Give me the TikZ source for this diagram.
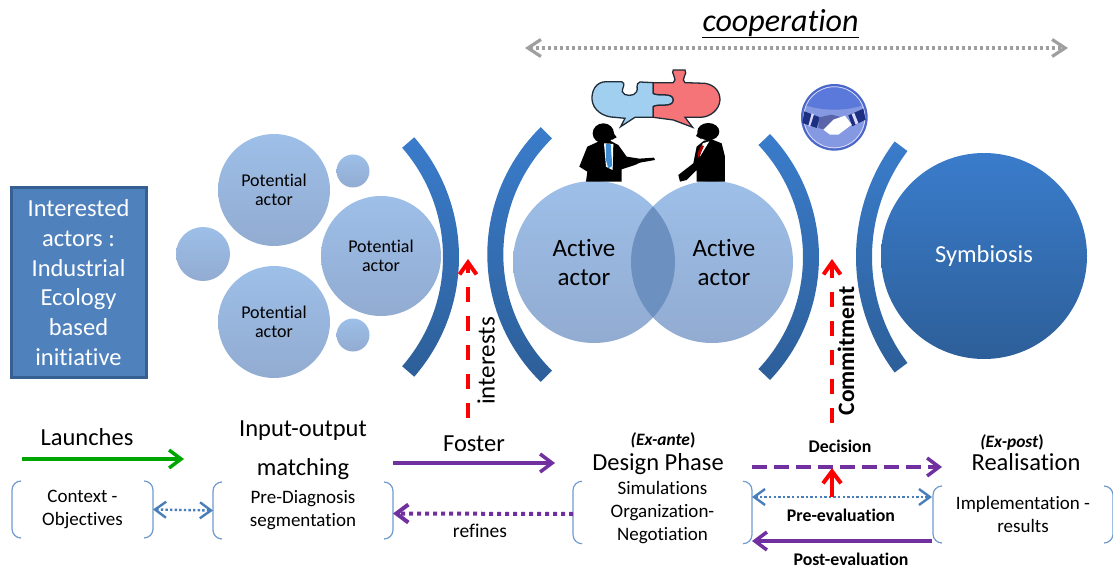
\documentclass[tikz,border=0pt]{standalone}
\usepackage{fontspec}
\setmainfont[Ligatures=NoCommon]{Carlito}
\usetikzlibrary{arrows.meta}
\definecolor{bluebar}{HTML}{3A7CCB}
\definecolor{bluebardk}{HTML}{2D5F99}
\definecolor{lightbub}{HTML}{9DBFE8}
\definecolor{lightbubdk}{HTML}{92ABD1}
\definecolor{overlapblue}{HTML}{6C90BF}
\definecolor{boxfill}{HTML}{4F81BD}
\definecolor{boxline}{HTML}{376092}
\definecolor{violetarr}{HTML}{7030A0}
\definecolor{bracketcol}{HTML}{6F9BD0}
\definecolor{dotblue}{HTML}{4A7EBB}
\definecolor{puzzleblue}{HTML}{A0CFF0}
\definecolor{puzzlered}{HTML}{F47478}
\definecolor{puzzleline}{HTML}{1F2D38}
\definecolor{badgering}{HTML}{4A68C8}
\definecolor{badgelight}{HTML}{8599E2}
\definecolor{badgetop}{HTML}{5B79DA}
\definecolor{badgearm}{HTML}{1C2F80}
\definecolor{badgehand}{HTML}{5A64A8}
\newcommand{\crescent}[4]{% centre, radius, facing, half angle
  \shade[top color=bluebar,bottom color=bluebardk,shift={(#1)}]
    (#3+#4:#2) arc[start angle=#3+#4,end angle=#3-#4,radius=#2]
    -- (#3-#4:#2-16) arc[start angle=#3-#4,end angle=#3+#4,radius=#2-16] -- cycle;
}
\tikzset{
  bubble/.style={circle,inner sep=0pt,top color=lightbub,bottom color=lightbubdk,
    align=center,font=\fontsize{18}{19.5}\selectfont},
  title/.style={font=\fontsize{24.5}{28}\selectfont,inner sep=0pt},
  small/.style={font=\fontsize{19}{23}\selectfont,align=center,inner sep=0pt},
  bold/.style={font=\fontsize{17.8}{20}\selectfont\bfseries,inner sep=0pt},
  bracketbox/.style={small,minimum width=#1,minimum height=57pt,outer sep=0pt},
  barb/.style={-{Straight Barb[length=12pt,width=18pt]}},
  bibarb/.style={{Straight Barb[length=11pt,width=16pt]}-{Straight Barb[length=11pt,width=16pt]}},
  violetline/.style={draw=violetarr,line width=3.5pt,barb},
  reddash/.style={draw=red,line width=4pt,-{Straight Barb[length=12pt,width=17pt]},dash pattern=on 15pt off 14pt},
  dotline/.style={draw=dotblue,line width=2.4pt,bibarb,dash pattern=on 2.4pt off 2.2pt},
}
\begin{document}
\begin{tikzpicture}[x=1pt,y=-1pt]
\useasboundingbox (0,0) rectangle (1113,569);
% top label and arrow
\node [font=\fontsize{32}{36}\selectfont,inner sep=0pt] (coop) at (780.5,23) {\textit{cooperation}};
\draw [line width=1.8pt] ([yshift=-6pt]coop.base west) -- ([yshift=-6pt]coop.base east);
\coordinate (coopL) at (525,48);
\coordinate (coopR) at (1068,48);
\draw [draw=gray!75,line width=3.2pt,dash pattern=on 3pt off 3pt,{Straight Barb[length=13pt,width=17pt]}-{Straight Barb[length=13pt,width=17pt]}] (coopL) -- (coopR);
% initiative box
\node [rectangle,draw=boxline,line width=3pt,fill=boxfill,minimum width=135pt,minimum height=189pt,
  text=white,align=center,font=\fontsize{24.5}{29.7}\selectfont,inner sep=0pt] (box) at (78.5,282.5)
  {Interested\\actors :\\Industrial\\Ecology\\based\\initiative};
% potential actors
\node [bubble,minimum size=112pt] (pa1) at (274,190) {Potential\\actor};
\node [bubble,minimum size=120pt] (pa2) at (381,256) {Potential\\actor};
\node [bubble,minimum size=112pt] (pa3) at (274,322) {Potential\\actor};
\node [bubble,minimum size=54pt] (dot1) at (203,254) {};
\node [bubble,minimum size=33pt] (dot2) at (353,171) {};
\node [bubble,minimum size=33pt] (dot3) at (353,335) {};
% brackets
\crescent{276.5,257}{182.5}{0}{41}
\crescent{666,254.5}{178.7}{180}{45.5}
\crescent{640,257}{179}{0}{43.4}
\crescent{1048,257}{192}{180}{37}
% active actors and overlap
\node [bubble,minimum size=162pt] (act1) at (594,262) {};
\node [bubble,minimum size=162pt] (act2) at (712,262) {};
\begin{scope}
  \clip (594,262) circle [radius=81];
  \fill [fill=overlapblue] (712,262) circle [radius=81];
\end{scope}
\node [font=\fontsize{25}{29}\selectfont,align=center,inner sep=0pt] (act1txt) at (584,262) {Active\\actor};
\node [font=\fontsize{25}{29}\selectfont,align=center,inner sep=0pt] (act2txt) at (724,262) {Active\\actor};
% symbiosis
\node [circle,minimum size=206pt,inner sep=0pt,top color=bluebar,bottom color=bluebardk,text=white,
  font=\fontsize{24.5}{28}\selectfont] (sym) at (984,256) {Symbiosis};
% puzzle and the two men
\begin{scope}[shift={(500,0)},x=0.3333pt,y=-0.3333pt]
  \filldraw [fill=puzzleblue,draw=puzzleline,line width=1.3pt]
    (460,248) -- (420,246) .. controls (405,250) and (415,268) .. (410,275)
    .. controls (405,290) and (370,290) .. (367,275) .. controls (365,265) and (380,250) .. (365,245)
    -- (320,245) .. controls (285,245) and (275,275) .. (276,298)
    .. controls (278,330) and (310,352) .. (345,352) -- (375,355) -- (362,380) -- (405,352) -- (460,352)
    -- (460,320) .. controls (470,310) and (520,325) .. (520,300)
    .. controls (520,275) and (470,290) .. (460,280) -- cycle;
  \filldraw [fill=puzzlered,draw=puzzleline,line width=1.3pt]
    (460,248) -- (520,248) .. controls (535,240) and (510,215) .. (520,210) -- (555,210)
    .. controls (565,220) and (540,240) .. (555,248) -- (615,250)
    .. controls (645,255) and (660,275) .. (660,300) .. controls (658,330) and (630,352) .. (600,352)
    -- (555,352) -- (578,382) -- (520,360) -- (460,352) -- (460,320)
    .. controls (470,310) and (520,325) .. (520,300)
    .. controls (520,275) and (470,290) .. (460,280) -- cycle;
  % left man
  \fill [black] (310,400) ellipse [x radius=32,y radius=30];
  \fill [black] (338,395) -- (350,412) -- (335,420) -- cycle;
  \fill [black] (295,425) -- (262,440) -- (238,500) -- (262,515) -- (258,545) -- (365,545) -- (365,508)
    -- (405,495) -- (420,488) -- (465,480) -- (462,473) -- (418,476) -- (380,470) -- (355,435) -- (330,422) -- cycle;
  \fill [white] (312,430) -- (340,432) -- (338,510) -- (318,500) -- cycle;
  \fill [cyan!60!blue!80] (318,432) -- (332,432) -- (337,498) -- (325,505) -- (318,480) -- cycle;
  % right man
  \fill [black] (625,395) ellipse [x radius=33,y radius=26];
  \fill [black] (598,390) -- (588,408) -- (605,418) -- cycle;
  \fill [black] (612,422) -- (590,440) -- (580,490) -- (535,525) -- (540,545) -- (560,540) -- (590,510)
    -- (590,545) -- (675,545) -- (675,470) -- (665,430) -- (635,418) -- cycle;
  \fill [white] (608,430) -- (628,424) -- (600,470) -- cycle;
  \fill [red!70!black] (604,436) -- (612,438) -- (596,474) -- (592,462) -- cycle;
\end{scope}
% handshake badge
\begin{scope}[shift={(795,78)},x=0.3333pt,y=-0.3333pt]
  \fill [badgering] (118,118) circle [radius=100];
  \fill [blue!15!white] (118,118) circle [radius=93];
  \fill [badgelight] (118,118) circle [radius=90];
  \begin{scope}
    \clip (118,118) circle [radius=90];
    \fill [badgetop] (118,50) ellipse [x radius=120,y radius=45];
  \end{scope}
  \fill [badgearm] (28,100) -- (75,118) -- (65,150) -- (22,135) -- cycle;
  \fill [blue!15!white] (50,106) -- (57,109) -- (45,146) -- (40,144) -- cycle;
  \fill [badgearm] (205,92) -- (160,112) -- (172,145) -- (212,125) -- cycle;
  \fill [blue!15!white] (170,108) -- (178,105) -- (190,135) -- (182,140) -- cycle;
  \fill [badgehand] (72,118) -- (110,110) -- (140,118) -- (110,160) -- (70,150) -- cycle;
  \fill [white] (85,155) -- (115,125) -- (150,113) -- (170,140) -- (130,170) -- (105,170) -- cycle;
\end{scope}
% red arrows
\coordinate (intBase) at (468,418);
\coordinate (intTip) at (468,259);
\draw [reddash] (intBase) -- (intTip);
\node [rotate=90,font=\fontsize{25}{27}\selectfont,inner sep=0pt] (interests) at (486,361) {interests};
\coordinate (comBase) at (832,423);
\coordinate (comTip) at (832,259);
\draw [reddash] (comBase) -- (comTip);
\node [rotate=90,font=\fontsize{23.5}{26}\selectfont\bfseries,inner sep=0pt] (commit) at (846,351) {Commitment};
% bottom row titles
\node [title] (launches) at (87,437) {Launches};
\node [title] (iomatch1) at (303,431) {Input-output};
\node [title] (iomatch2) at (303,469) {matching};
\node [title] (foster) at (474,444) {Foster};
\node [font=\fontsize{17.4}{20}\selectfont\bfseries,inner sep=0pt] (exante) at (663,440) {\textit{(Ex-ante})};
\node [title] (designtxt) at (658,464) {Design Phase};
\node [font=\fontsize{17.4}{20}\selectfont\bfseries,inner sep=0pt] (expost) at (1012,442) {\textit{(Ex-post})};
\node [title] (realis) at (1026,462) {Realisation};
% bottom row bracketed boxes
\node [bracketbox=141pt] (ctx) at (82.5,509.5) {Context -\\Objectives};
\node [bracketbox=180pt] (prediag) at (303,510.5) {Pre-Diagnosis\\segmentation};
\node [bracketbox=179pt,minimum height=59pt] (design) at (662.5,512.5) {Simulations\\Organization-\\Negotiation};
\node [bracketbox=180pt] (impl) at (1023,514.5) {Implementation -\\results};
\foreach \b in {ctx,prediag,design,impl} {
  \draw [draw=bracketcol,line width=1.2pt,rounded corners=9pt]
    ([xshift=9pt]\b.north west) -- (\b.north west) -- (\b.south west) -- ([xshift=9pt]\b.south west);
  \draw [draw=bracketcol,line width=1.2pt,rounded corners=9pt]
    ([xshift=-9pt]\b.north east) -- (\b.north east) -- (\b.south east) -- ([xshift=-9pt]\b.south east);
}
% bottom row arrows
\coordinate (launchL) at (22,459);
\coordinate (launchR) at (184,459);
\draw [draw=green!65!black,line width=3.5pt,barb] (launchL) -- (launchR);
\coordinate (fosterL) at (393,463);
\coordinate (fosterR) at (555,463);
\draw [violetline] (fosterL) -- (fosterR);
\draw [dotline] (ctx.east) -- (prediag.west);
\draw [draw=violetarr,line width=4pt,barb,dash pattern=on 4pt off 4pt] ([yshift=-1.5pt]design.west) -- ([yshift=-3pt]prediag.east);
\node [font=\fontsize{19.5}{22}\selectfont,inner sep=0pt] (refines) at (480,531) {refines};
\coordinate (decL) at (752,467);
\coordinate (decR) at (942,467);
\coordinate (decMid) at (832,468);
\draw [violetline,dash pattern=on 15pt off 7pt] (decL) -- (decR);
\coordinate (preL) at (752,497);
\coordinate (preR) at (932,497);
\coordinate (preMid) at (832,497);
\draw [dotline] (preL) -- (preR);
\draw [draw=red,line width=4pt,barb] (preMid) -- (decMid);
\coordinate (postL) at (752,541);
\coordinate (postR) at (932,541);
\draw [violetline] (postR) -- (postL);
\node [bold] (decision) at (840,446) {Decision};
\node [bold] (preeval) at (841,515) {Pre-evaluation};
\node [bold] (posteval) at (851,559) {Post-evaluation};
\end{tikzpicture}
\end{document}
